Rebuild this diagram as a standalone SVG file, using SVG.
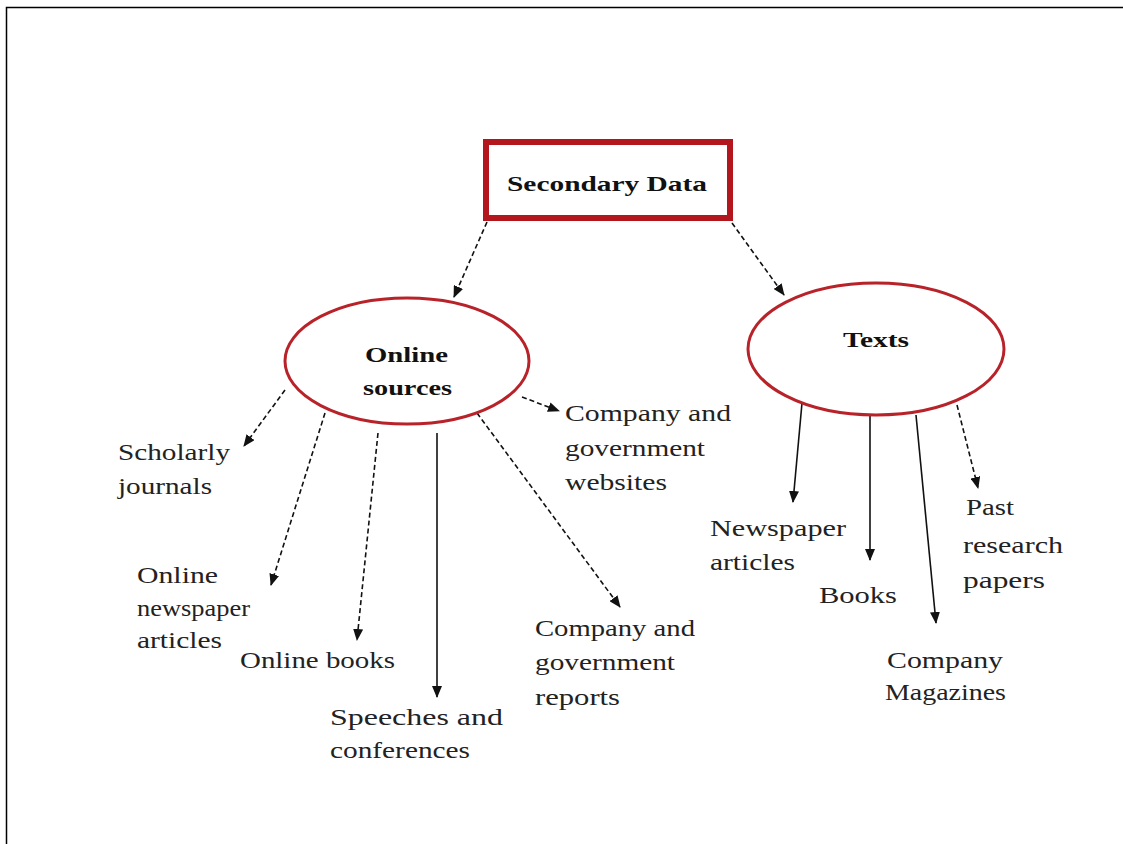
<svg xmlns="http://www.w3.org/2000/svg" width="1123" height="844" viewBox="0 0 1123 844">
<style>
.t{font-family:"Liberation Serif","Times New Roman",serif;font-size:24px;fill:#222;}
.b{font-family:"Liberation Serif","Times New Roman",serif;font-size:22px;font-weight:bold;fill:#111;}
.node{fill:#fff;stroke:#b8232a;stroke-width:3;}
.box{fill:#fff;stroke:#b3161d;stroke-width:6;}
.c{stroke:#111;stroke-width:1.6;fill:none;marker-end:url(#ah);}
.d{stroke-dasharray:5 3;}
</style>
<defs>
<marker id="ah" markerUnits="userSpaceOnUse" markerWidth="12" markerHeight="10" refX="11" refY="5" orient="auto">
<path d="M0,0 L12,5 L0,10 Z" fill="#111"/>
</marker>
</defs>
<rect width="1123" height="844" fill="#fff"/>
<path d="M6.5,844 V7.5 H1123" fill="none" stroke="#000" stroke-width="1.5"/>

<g id="connectors">
<line class="c d" x1="487" y1="222" x2="454" y2="297"/>
<line class="c d" x1="732" y1="223" x2="784" y2="295"/>
<line class="c d" x1="285" y1="390" x2="244" y2="446"/>
<line class="c d" x1="325" y1="413" x2="271" y2="585"/>
<line class="c d" x1="378" y1="433" x2="357" y2="640"/>
<line class="c" x1="437" y1="433" x2="437" y2="697"/>
<line class="c d" x1="477" y1="413" x2="620" y2="607"/>
<line class="c d" x1="522" y1="397" x2="559" y2="411"/>
<line class="c" x1="802" y1="403" x2="793" y2="502"/>
<line class="c" x1="870" y1="413" x2="870" y2="560"/>
<line class="c" x1="916" y1="415" x2="936" y2="623"/>
<line class="c d" x1="957" y1="405" x2="978" y2="488"/>
</g>

<g id="secondary-data">
<rect class="box" x="486" y="142" width="244" height="76"/>
<text class="b" x="507" y="191" textLength="200" lengthAdjust="spacingAndGlyphs">Secondary Data</text>
</g>

<g id="online-sources">
<ellipse class="node" cx="407" cy="361" rx="122" ry="63"/>
<text class="b" x="365" y="362" textLength="83" lengthAdjust="spacingAndGlyphs">Online</text>
<text class="b" x="363" y="395" textLength="89" lengthAdjust="spacingAndGlyphs">sources</text>
</g>

<g id="texts">
<ellipse class="node" cx="876" cy="349" rx="128" ry="66"/>
<text class="b" x="843" y="347" textLength="66" lengthAdjust="spacingAndGlyphs">Texts</text>
</g>

<g id="scholarly-journals">
<text class="t" x="118" y="460" textLength="112" lengthAdjust="spacingAndGlyphs">Scholarly</text>
<text class="t" x="118" y="494" textLength="94" lengthAdjust="spacingAndGlyphs">journals</text>
</g>

<g id="online-newspaper-articles">
<text class="t" x="137" y="583" textLength="81" lengthAdjust="spacingAndGlyphs">Online</text>
<text class="t" x="137" y="616" textLength="113" lengthAdjust="spacingAndGlyphs">newspaper</text>
<text class="t" x="137" y="648" textLength="85" lengthAdjust="spacingAndGlyphs">articles</text>
</g>

<g id="online-books">
<text class="t" x="240" y="668" textLength="155" lengthAdjust="spacingAndGlyphs">Online books</text>
</g>

<g id="speeches-conferences">
<text class="t" x="330" y="725" textLength="173" lengthAdjust="spacingAndGlyphs">Speeches  and</text>
<text class="t" x="330" y="758" textLength="140" lengthAdjust="spacingAndGlyphs">conferences</text>
</g>

<g id="company-websites">
<text class="t" x="565" y="421" textLength="166" lengthAdjust="spacingAndGlyphs">Company and</text>
<text class="t" x="565" y="456" textLength="140" lengthAdjust="spacingAndGlyphs">government</text>
<text class="t" x="565" y="490" textLength="102" lengthAdjust="spacingAndGlyphs">websites</text>
</g>

<g id="company-reports">
<text class="t" x="535" y="636" textLength="160" lengthAdjust="spacingAndGlyphs">Company and</text>
<text class="t" x="535" y="670" textLength="140" lengthAdjust="spacingAndGlyphs">government</text>
<text class="t" x="535" y="705" textLength="85" lengthAdjust="spacingAndGlyphs">reports</text>
</g>

<g id="newspaper-articles">
<text class="t" x="710" y="536" textLength="136" lengthAdjust="spacingAndGlyphs">Newspaper</text>
<text class="t" x="710" y="570" textLength="85" lengthAdjust="spacingAndGlyphs">articles</text>
</g>

<g id="books">
<text class="t" x="819" y="603" textLength="78" lengthAdjust="spacingAndGlyphs">Books</text>
</g>

<g id="past-research-papers">
<text class="t" x="966" y="515" textLength="48" lengthAdjust="spacingAndGlyphs">Past</text>
<text class="t" x="963" y="553" textLength="100" lengthAdjust="spacingAndGlyphs">research</text>
<text class="t" x="963" y="588" textLength="82" lengthAdjust="spacingAndGlyphs">papers</text>
</g>

<g id="company-magazines">
<text class="t" x="887" y="668" textLength="116" lengthAdjust="spacingAndGlyphs">Company</text>
<text class="t" x="885" y="700" textLength="121" lengthAdjust="spacingAndGlyphs">Magazines</text>
</g>
</svg>
